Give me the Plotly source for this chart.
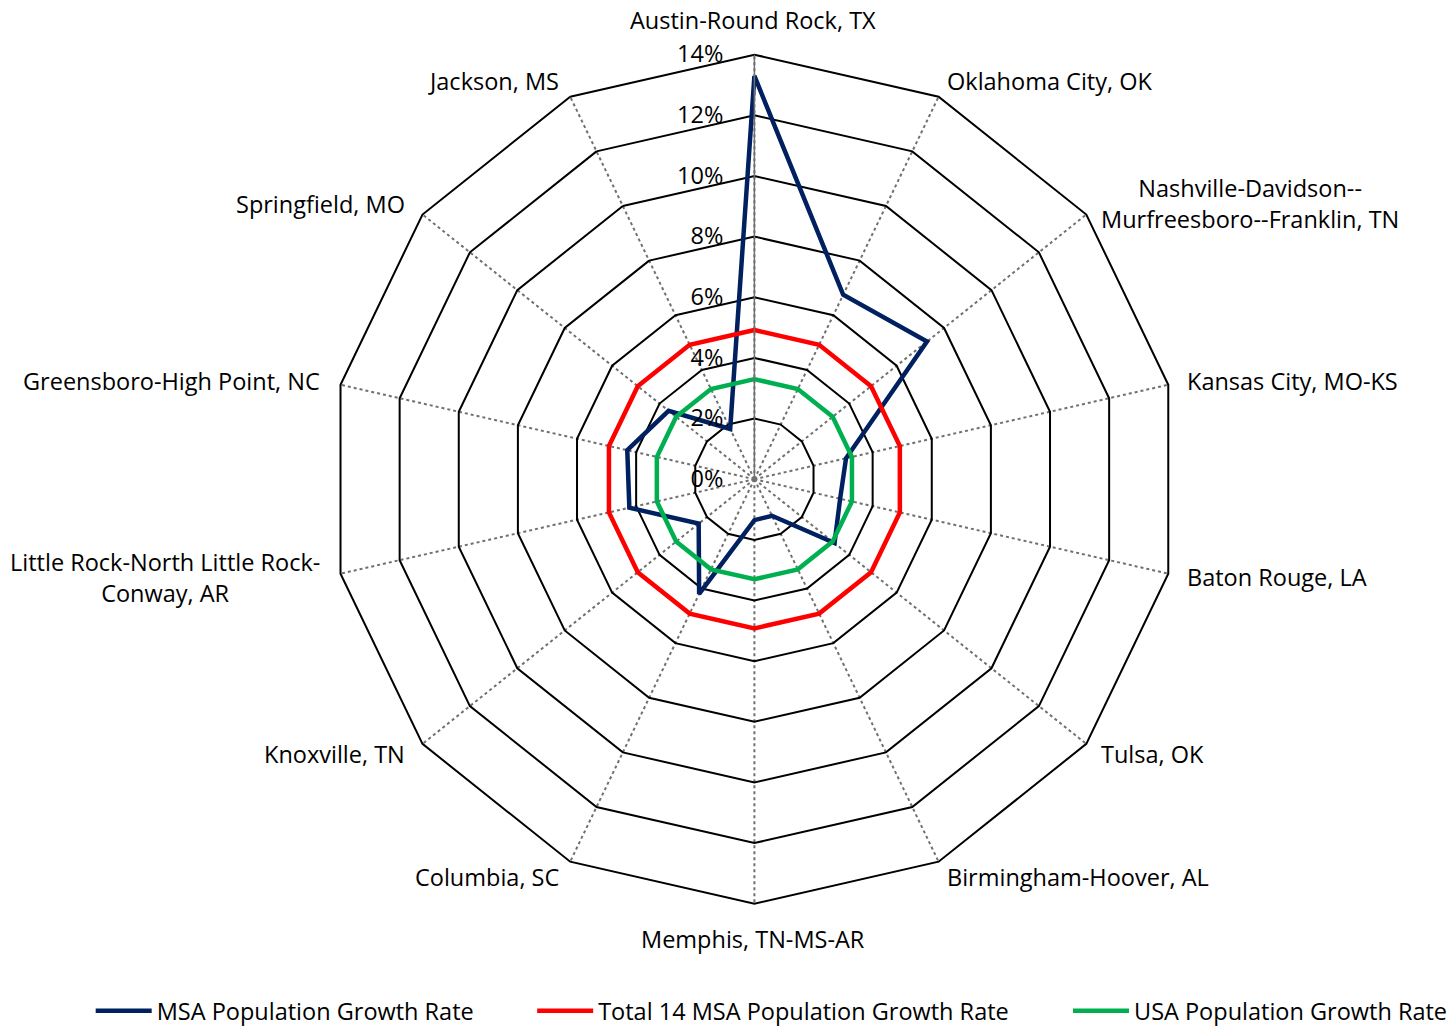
import math
import plotly.graph_objects as go

categories = [
    "Austin-Round Rock, TX",
    "Oklahoma City, OK",
    "Nashville-Davidson--<br>Murfreesboro--Franklin, TN",
    "Kansas City, MO-KS",
    "Baton Rouge, LA",
    "Tulsa, OK",
    "Birmingham-Hoover, AL",
    "Memphis, TN-MS-AR",
    "Columbia, SC",
    "Knoxville, TN",
    "Little Rock-North Little Rock-<br>Conway, AR",
    "Greensboro-High Point, NC",
    "Springfield, MO",
    "Jackson, MS",
]

msa_growth = [13.3, 6.75, 7.28, 3.1, 2.9, 3.38, 1.34, 1.35, 4.2, 2.35, 4.23, 4.3, 3.62, 1.84]
total_14_growth = [4.92] * 14
usa_growth = [3.3] * 14

radial_ticks = [0, 2, 4, 6, 8, 10, 12, 14]
radial_labels = ["0%", "2%", "4%", "6%", "8%", "10%", "12%", "14%"]

FONT = "Open Sans"
FS = 23.5


def closed(vals):
    return vals + vals[:1]


W, H = 1453, 1033
cx, cy, rad = 757, 482, 427

fig = go.Figure()
series = [
    ("MSA Population Growth Rate", msa_growth, "#002060", "legend", 91),
    ("Total 14 MSA Population Growth Rate", total_14_growth, "#FF0000", "legend2", 534),
    ("USA Population Growth Rate", usa_growth, "#00B050", "legend3", 1072),
]
legends = {}
for name, vals, color, leg, lx in series:
    fig.add_trace(go.Scatterpolar(
        r=closed(vals),
        theta=closed(categories),
        mode="lines",
        name=name,
        legend=leg,
        line=dict(color=color, width=4.5),
    ))
    legends[leg] = dict(
        orientation="h",
        x=lx / W,
        xanchor="left",
        y=-0.006,
        yanchor="bottom",
        font=dict(size=FS, family=FONT),
        itemwidth=56,
        bgcolor="rgba(0,0,0,0)",
    )

# category labels placed just outside each outer vertex, like the original
annotations = []
n = len(categories)
for i, cat in enumerate(categories):
    a = math.radians(i * 360 / n)
    s, c = math.sin(a), math.cos(a)
    px = cx - 1 + (rad + 17) * s
    py = cy - (rad + 17) * c
    if abs(s) < 0.01:
        xa, ya = "center", ("bottom" if c > 0 else "top")
    else:
        xa, ya = ("left" if s > 0 else "right"), "middle"
    annotations.append(dict(
        text=cat, x=px / W, y=1 - py / H, xref="paper", yref="paper",
        xanchor=xa, yanchor=ya, align="center", showarrow=False,
        font=dict(size=FS, family=FONT, color="black"),
    ))

fig.update_layout(
    width=W,
    height=H,
    margin=dict(l=0, r=0, t=0, b=0),
    paper_bgcolor="white",
    showlegend=True,
    font=dict(family=FONT, size=FS, color="black"),
    annotations=annotations,
    polar=dict(
        domain=dict(x=[(cx - rad) / W, (cx + rad) / W],
                    y=[(H - cy - rad) / H, (H - cy + rad) / H]),
        bgcolor="white",
        gridshape="linear",
        angularaxis=dict(
            rotation=90,
            direction="clockwise",
            showline=True,
            linecolor="black",
            linewidth=2,
            gridcolor="#707070",
            gridwidth=1.5,
            griddash="dot",
            ticks="",
            showticklabels=False,
        ),
        radialaxis=dict(
            range=[0, 14],
            tickvals=radial_ticks,
            ticktext=radial_labels,
            angle=90,
            side="counterclockwise",
            showline=True,
            linecolor="#707070",
            linewidth=1.5,
            gridcolor="black",
            gridwidth=2,
            ticks="outside",
            ticklen=22,
            tickcolor="rgba(0,0,0,0)",
            tickangle=90,
            tickfont=dict(size=FS, family=FONT),
        ),
    ),
    **legends,
)

fig.write_html("out.html", config={"displayModeBar": False},
               post_script="document.body.style.margin='0';")
